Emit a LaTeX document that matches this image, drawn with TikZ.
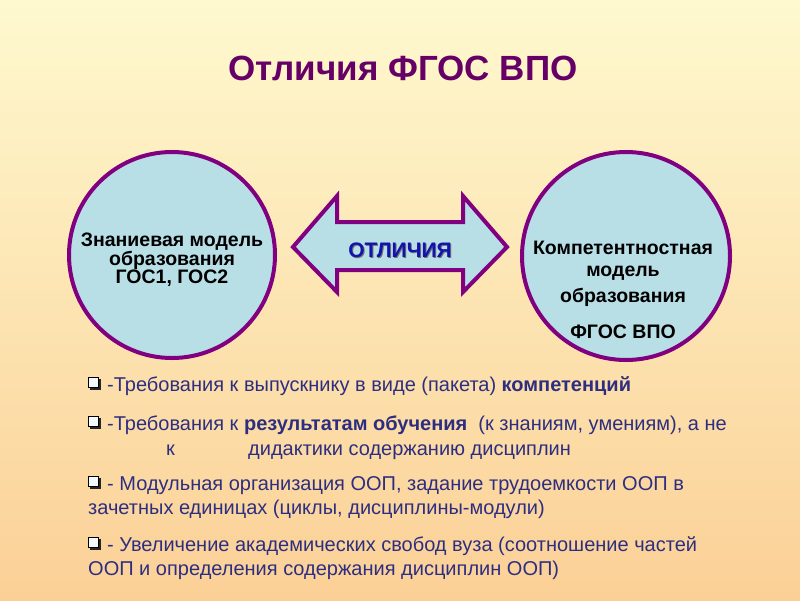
\documentclass[tikz,border=0pt]{standalone}
\usepackage{fontspec}
\setmainfont{Liberation Sans}
\definecolor{bgtop}{RGB}{254,249,207}
\definecolor{bgbot}{RGB}{251,208,150}
\definecolor{ringc}{RGB}{128,0,128}
\definecolor{fillc}{RGB}{184,222,230}
\definecolor{titlec}{RGB}{102,0,102}
\definecolor{arrtext}{RGB}{18,18,175}
\definecolor{bultext}{RGB}{46,46,128}
\tikzset{
  ring/.style={circle, draw=ringc, line width=4pt, fill=fillc, inner sep=0pt},
  circtext/.style={font=\fontsize{19.5}{18}\selectfont\bfseries, text=black, align=center, inner sep=0pt},
  bul/.style={anchor=base west, inner sep=0pt, text=bultext, font=\fontsize{20}{22}\selectfont},
}
\begin{document}
\begin{tikzpicture}[x=1pt,y=-1pt]
\useasboundingbox (0,0) rectangle (800,600);
\shade[top color=bgtop, bottom color=bgbot] (0,0) rectangle (800,600);
% title
\node (title) [text=titlec, font=\fontsize{35}{38}\selectfont\bfseries] at (403,68) {Отличия ФГОС ВПО};
% circles
\node (left) [ring, minimum size=206pt] at (172,255) {};
\node (right) [ring, minimum size=208pt] at (626,256) {};
\node (lt) [circtext] at (172,260) {Знаниевая модель\\образования\\ГОС1, ГОС2};
\node (rt1) [circtext] at (623,248) {Компетентностная};
\node (rt2) [circtext] at (623,273) {модель};
\node (rt3) [circtext] at (623,297) {образования};
\node (rt4) [circtext] at (623,332) {ФГОС ВПО};
% double arrow
\draw[draw=ringc, line width=4pt, fill=fillc, line join=miter]
  (293,247) -- (337,196) -- (337,222) -- (463,222) -- (463,196) -- (507,247)
  -- (463,292) -- (463,270) -- (337,270) -- (337,292) -- cycle;
\node[text=black!55, font=\fontsize{21}{22}\selectfont\bfseries] at (401,251) {ОТЛИЧИЯ};
\node (diff) [text=arrtext, font=\fontsize{21}{22}\selectfont\bfseries] at (400,250) {ОТЛИЧИЯ};
% bullets
\foreach \yy in {377,416,476,537} {
  \fill[black!85] (90,\yy+2) rectangle (100.5,\yy+12.5);
  \draw[black, line width=1pt, fill=white!85!fillc] (88,\yy) rectangle (98.5,\yy+10.5);
}
\node (b1) [bul] at (107,391) {-Требования к выпускнику в виде (пакета) \textbf{компетенций}};
\node (b2) [bul] at (107,430) {-Требования к \textbf{результатам обучения}\ \ (к знаниям, умениям), а не};
\node (b2a) [bul] at (166,455) {к};
\node (b2b) [bul] at (248,455) {дидактики содержанию дисциплин};
\node (b3) [bul] at (107,490) {- Модульная организация ООП, задание трудоемкости ООП в};
\node (b3a) [bul] at (88,514) {зачетных единицах (циклы, дисциплины-модули)};
\node (b4) [bul] at (107,551) {- Увеличение академических свобод вуза (соотношение частей};
\node (b4a) [bul] at (88,575) {ООП и определения содержания дисциплин ООП)};
\end{tikzpicture}
\end{document}
